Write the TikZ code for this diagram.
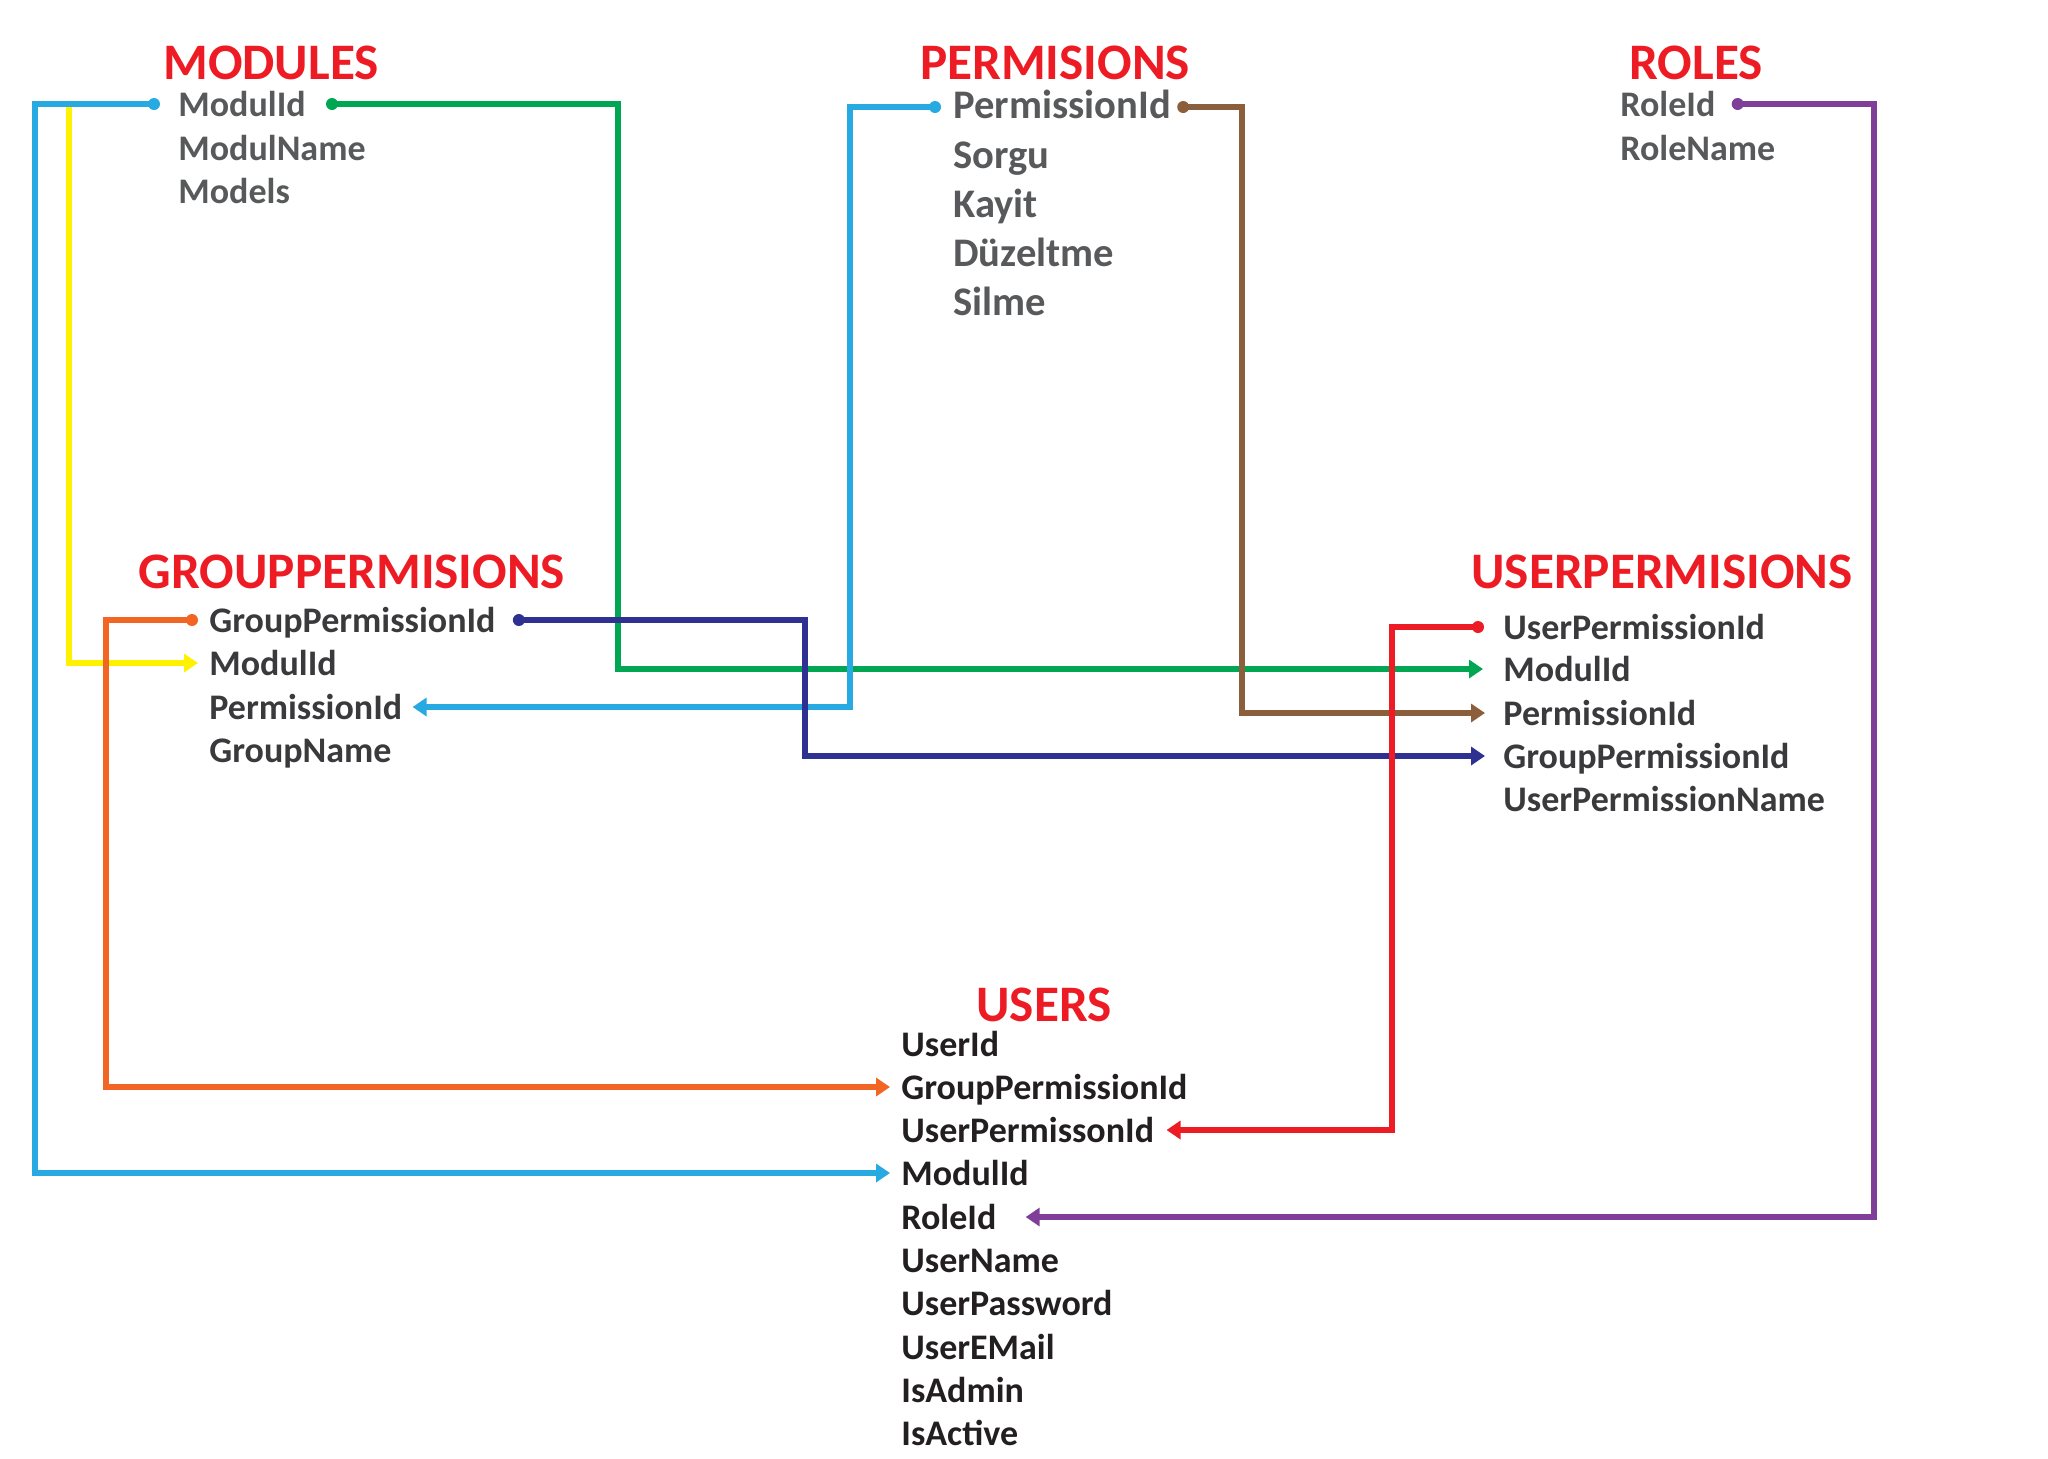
\documentclass[tikz,border=0pt]{standalone}
\usepackage{fontspec}
\setmainfont{Carlito}
\usetikzlibrary{arrows.meta,calc}
\definecolor{tred}{HTML}{ED1C24}
\definecolor{topgray}{HTML}{58595B}
\definecolor{midgray}{HTML}{3A3A3C}
\definecolor{usrblack}{HTML}{231F20}
\definecolor{cblue}{HTML}{27AAE1}
\definecolor{cyellow}{HTML}{FFF200}
\definecolor{cgreen}{HTML}{00A651}
\definecolor{cbrown}{HTML}{8B5E3C}
\definecolor{cpurple}{HTML}{7F3F98}
\definecolor{corange}{HTML}{F26522}
\definecolor{cnavy}{HTML}{2E3192}
\definecolor{cred}{HTML}{ED1C24}
\begin{document}
\begin{tikzpicture}[x=0.5pt,y=-0.5pt,
  title/.style={font=\bfseries\fontsize{25.6}{28}\selectfont, text=tred, inner sep=0},
  field/.style={font=\bfseries\fontsize{18}{20}\selectfont, anchor=west, inner sep=0, text height=1.2em, text depth=0pt},
  topfield/.style={field, text=topgray},
  bigfield/.style={field, text=topgray, font=\bfseries\fontsize{20.3}{22}\selectfont, text height=1.14em},
  midfield/.style={field, text=midgray},
  usrfield/.style={field, text=usrblack},
  conn/.style={line width=3pt, line join=miter, -{Triangle[length=7pt,width=9pt]}}
]
\useasboundingbox (0,0) rectangle (2048,1458);

% titles
\node[title] (tmod) at (271,63) {MODULES};
\node[title] (tperm) at (1055,63) {PERMISIONS};
\node[title] (trole) at (1696,63) {ROLES};
\node[title] (tgp) at (352,572) {GROUPPERMISIONS};
\node[title] (tup) at (1662,572) {USERPERMISIONS};
\node[title] (tusr) at (1044,1005) {USERS};

% MODULES
\node[topfield] (m1) at (178,104) {ModulId};
\node[topfield] (m2) at (178,148) {ModulName};
\node[topfield] (m3) at (178,191) {Models};

% PERMISIONS
\node[bigfield] (p1) at (953,107) {PermissionId};
\node[bigfield] (p2) at (953,157) {Sorgu};
\node[bigfield] (p3) at (953,206) {Kayit};
\node[bigfield] (p4) at (953,255) {Düzeltme};
\node[bigfield] (p5) at (953,304) {Silme};

% ROLES
\node[topfield] (r1) at (1620,104) {RoleId};
\node[topfield] (r2) at (1620,148) {RoleName};

% GROUPPERMISIONS
\node[midfield] (g1) at (209,620) {GroupPermissionId};
\node[midfield] (g2) at (209,663) {ModulId};
\node[midfield] (g3) at (209,707) {PermissionId};
\node[midfield] (g4) at (209,750) {GroupName};

% USERPERMISIONS
\node[midfield] (up1) at (1503,627) {UserPermissionId};
\node[midfield] (up2) at (1503,669) {ModulId};
\node[midfield] (up3) at (1503,713) {PermissionId};
\node[midfield] (up4) at (1503,756) {GroupPermissionId};
\node[midfield] (up5) at (1503,799) {UserPermissionName};

% USERS
\node[usrfield] (u1) at (901,1044) {UserId};
\node[usrfield] (u2) at (901,1087) {GroupPermissionId};
\node[usrfield] (u3) at (901,1130) {UserPermissonId};
\node[usrfield] (u4) at (901,1173) {ModulId};
\node[usrfield] (u5) at (901,1217) {RoleId};
\node[usrfield] (u6) at (901,1260) {UserName};
\node[usrfield] (u7) at (901,1303) {UserPassword};
\node[usrfield] (u8) at (901,1347) {UserEMail};
\node[usrfield] (u9) at (901,1390) {IsAdmin};
\node[usrfield] (u10) at (901,1433) {IsActive};

% connector start points and routing columns
\coordinate (s1) at ($(m1.west)+(-24,0)$);
\coordinate (s3) at ($(m1.east)+(26,0)$);
\coordinate (s4) at ($(p1.west)+(-18,0)$);
\coordinate (s5) at ($(p1.east)+(12,0)$);
\coordinate (s6) at ($(r1.east)+(22,0)$);
\coordinate (s7) at ($(g1.west)+(-17,0)$);
\coordinate (s8) at ($(g1.east)+(23,0)$);
\coordinate (s9) at ($(up1.west)+(-25,0)$);
\coordinate (xbl) at (35,0);
\coordinate (xye) at (69,0);
\coordinate (xgr) at (618,0);
\coordinate (xb2) at (850,0);
\coordinate (xbr) at (1242,0);
\coordinate (xpu) at (1874,0);
\coordinate (xor) at (106,0);
\coordinate (xnv) at (805,0);
\coordinate (xrd) at (1392,0);
\coordinate (yj) at (xye |- m1.west);

% connectors
\draw[conn, cyellow] (yj) -- (xye |- g2.west) -- ($(g2.west)+(-11,0)$);
\draw[conn, cblue] (s1) -| (xbl |- u4.west) -- ($(u4.west)+(-11,0)$);
\draw[conn, cgreen] (s3) -| (xgr |- up2.west) -- ($(up2.west)+(-20,0)$);
\draw[conn, cblue] (s4) -| (xb2 |- g3.east) -- ($(g3.east)+(10,0)$);
\draw[conn, cbrown] (s5) -| (xbr |- up3.west) -- ($(up3.west)+(-18,0)$);
\draw[conn, cpurple] (s6) -| (xpu |- u5.east) -- ($(u5.east)+(29,0)$);
\draw[conn, corange] (s7) -| (xor |- u2.west) -- ($(u2.west)+(-11,0)$);
\draw[conn, cnavy] (s8) -| (xnv |- up4.west) -- ($(up4.west)+(-18,0)$);
\draw[conn, cred] (s9) -| (xrd |- u3.east) -- ($(u3.east)+(12,0)$);

% start dots
\fill[cblue] (s1) circle (3pt);
\fill[cgreen] (s3) circle (3pt);
\fill[cblue] (s4) circle (3pt);
\fill[cbrown] (s5) circle (3pt);
\fill[cpurple] (s6) circle (3pt);
\fill[corange] (s7) circle (3pt);
\fill[cnavy] (s8) circle (3pt);
\fill[cred] (s9) circle (3pt);
\end{tikzpicture}
\end{document}
